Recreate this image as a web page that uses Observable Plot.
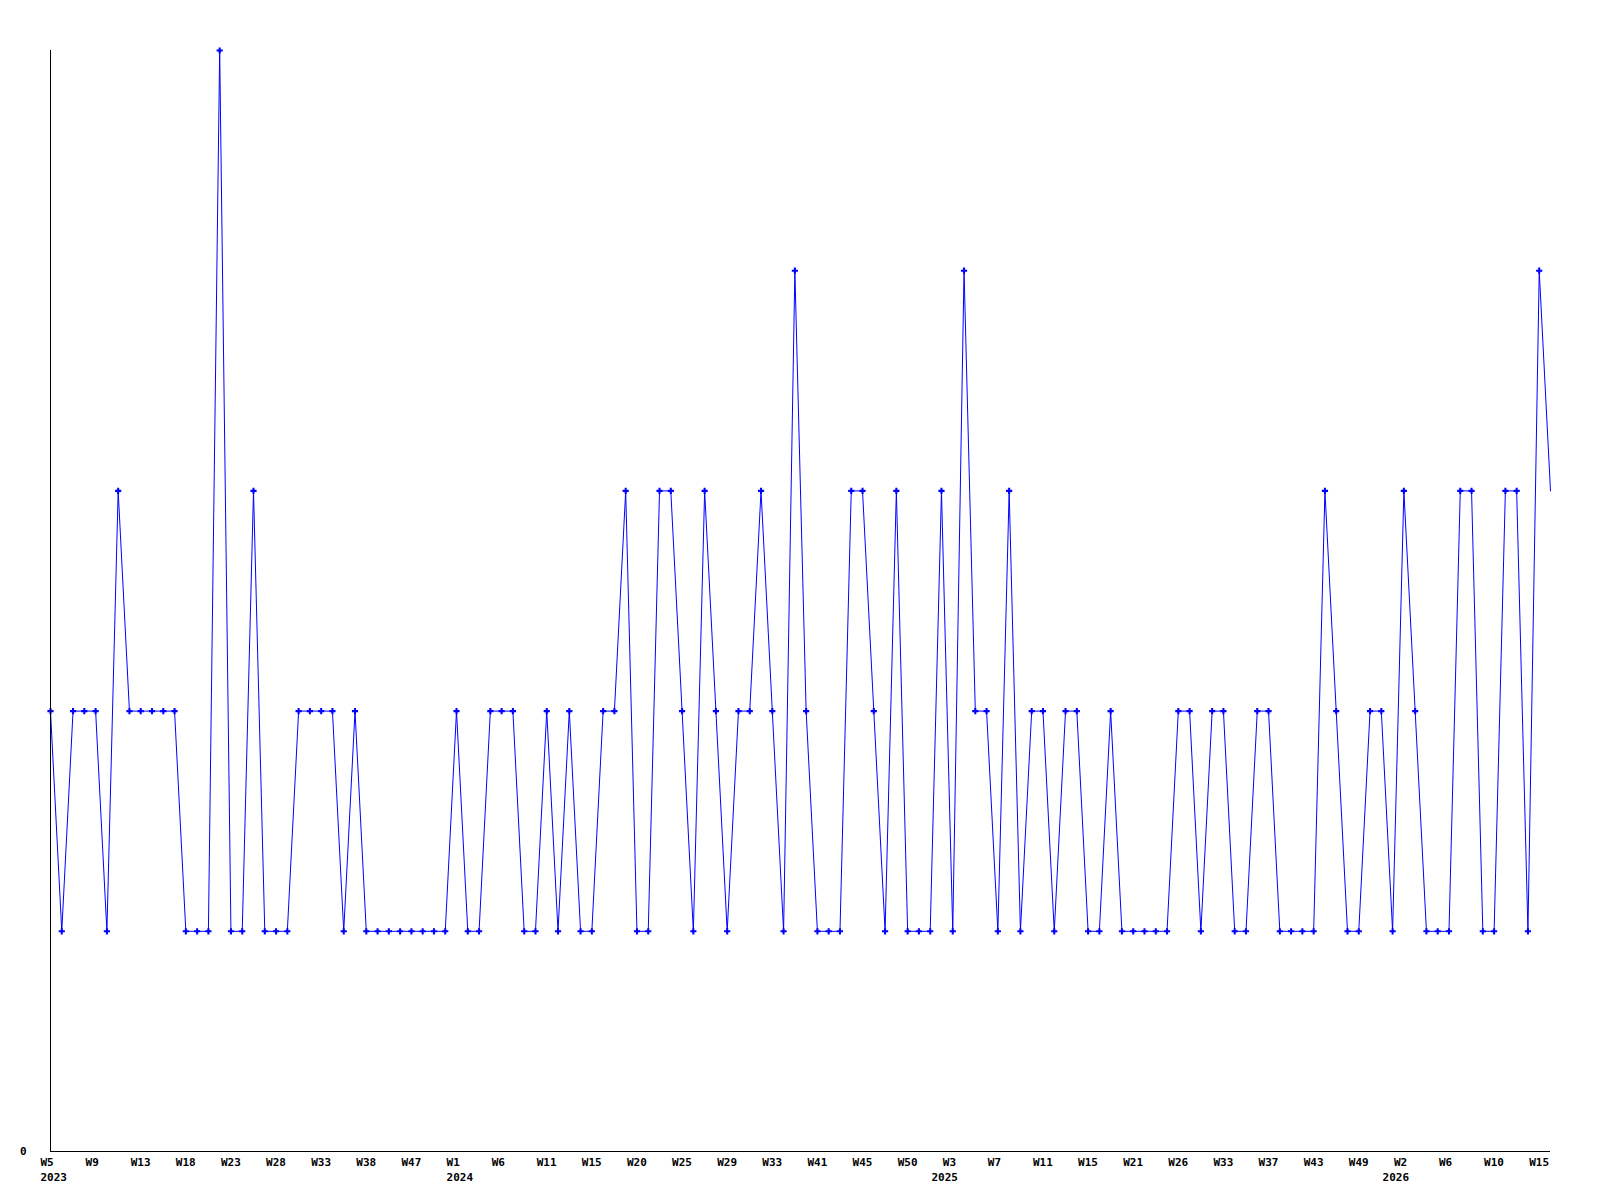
<!DOCTYPE html>
<html>
<head>
<meta charset="utf-8">
<script src="https://cdn.jsdelivr.net/npm/d3@7"></script>
<script src="https://cdn.jsdelivr.net/npm/@observablehq/plot@0.6"></script>
<style>
  html, body { margin: 0; padding: 0; background: #ffffff; }
  #chart svg { display: block; }
</style>
</head>
<body>
<div id="chart"></div>
<script>
// Weekly values (one per week that has data)
const values = [
  2, 1, 2, 2, 2, 1, 3, 2, 2, 2,
  2, 2, 1, 1, 1, 5, 1, 1, 3, 1,
  1, 1, 2, 2, 2, 2, 1, 2, 1, 1,
  1, 1, 1, 1, 1, 1, 2, 1, 1, 2,
  2, 2, 1, 1, 2, 1, 2, 1, 1, 2,
  2, 3, 1, 1, 3, 3, 2, 1, 3, 2,
  1, 2, 2, 3, 2, 1, 4, 2, 1, 1,
  1, 3, 3, 2, 1, 3, 1, 1, 1, 3,
  1, 4, 2, 2, 1, 3, 1, 2, 2, 1,
  2, 2, 1, 1, 2, 1, 1, 1, 1, 1,
  2, 2, 1, 2, 2, 1, 1, 2, 2, 1,
  1, 1, 1, 3, 2, 1, 1, 2, 2, 1,
  3, 2, 1, 1, 1, 3, 3, 1, 1, 3,
  3, 1, 4, 3
];

// Week tick labels: one every 4th week shown
const tickWeeks = [
  "W5", "W9", "W13", "W18", "W23", "W28", "W33", "W38", "W47",
  "W1", "W6", "W11", "W15", "W20", "W25", "W29", "W33", "W41", "W45", "W50",
  "W3", "W7", "W11", "W15", "W21", "W26", "W33", "W37", "W43", "W49",
  "W2", "W6", "W10", "W15"
];
const tickStep = 4;

// Year labels, placed at the first week of each year
const yearLabels = ["2023", "2024", "2025", "2026"];
const yearFirstWeek = [0, 36, 79, 119];

const yMax = 5;

const points = values.map((v, i) => ({i, v}));
const marked = points.slice(0, points.length - 1);
const ticks = tickWeeks.map((w, k) => ({i: k * tickStep, week: w}));
const yearTicks = yearLabels.map((y, k) => ({i: yearFirstWeek[k], year: y}));

const font = "'DejaVu Sans Mono', 'Liberation Mono', monospace";

const chart = Plot.plot({
  width: 1600,
  height: 1200,
  marginLeft: 50,
  marginRight: 50,
  marginTop: 50,
  marginBottom: 49,
  style: {fontFamily: font, fontSize: "11px", fontWeight: "bold", background: "#ffffff", color: "#000000"},
  x: {type: "point", domain: d3.range(values.length), padding: 0, axis: null},
  y: {domain: [0, yMax], axis: null},
  marks: [
    Plot.axisY({ticks: [0], tickSize: 0, tickPadding: 24, tickFormat: d => String(d), label: null,
                fontWeight: "bold", fontSize: 11, fill: "#000"}),
    Plot.line(points, {x: "i", y: "v", stroke: "#0000ff", strokeWidth: 1, curve: "linear"}),
    Plot.dot(marked, {x: "i", y: "v", symbol: "cross", r: 2.6, fill: "#0000ff", stroke: "none"}),
    Plot.ruleX([0], {stroke: "#000", strokeWidth: 1}),
    Plot.ruleY([0], {stroke: "#000", strokeWidth: 1}),
    Plot.text(ticks, {x: "i", text: "week", frameAnchor: "bottom", lineAnchor: "top", textAnchor: "start",
                      dx: -10, dy: 7, fill: "#000", fontWeight: "bold", fontSize: 11}),
    Plot.text(yearTicks, {x: "i", text: "year", frameAnchor: "bottom", lineAnchor: "top", textAnchor: "start",
                      dx: -10, dy: 22, fill: "#000", fontWeight: "bold", fontSize: 11})
  ]
});

document.getElementById("chart").appendChild(chart);
</script>
</body>
</html>
